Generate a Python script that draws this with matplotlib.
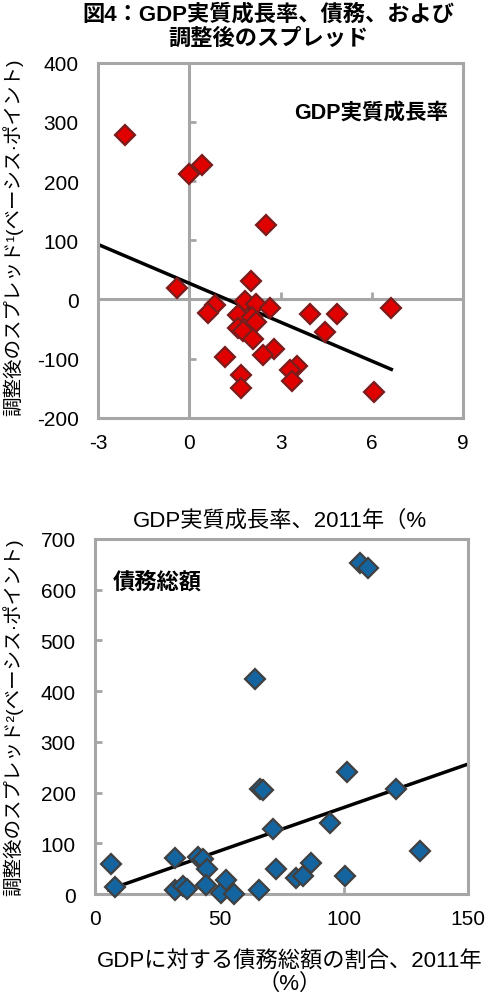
import matplotlib
matplotlib.use("Agg")
import matplotlib.pyplot as plt

plt.rcParams['font.family'] = ['Liberation Sans', 'Noto Sans CJK JP']
plt.rcParams['axes.unicode_minus'] = False

# 上: GDP実質成長率 vs 調整後のスプレッド
growth_x = [-2.12, 0.0, 0.41, 2.53, 2.03, -0.42, 0.84, 0.62, 1.83, 2.2,
            2.65, 1.61, 2.05, 2.2, 1.61, 1.78, 2.1, 3.97, 4.85, 4.47,
            6.64, 1.17, 2.77, 2.43, 3.54, 3.32, 3.37, 1.69, 1.69, 6.06]
growth_y = [277, 212, 228, 125, 31, 19, -10, -22, -2, -7,
            -14, -27, -30, -38, -48, -53, -66, -25, -24, -55,
            -15, -97, -83, -94, -112, -119, -137, -128, -149, -156]
growth_trend_x = [-3, 6.64]
growth_trend_y = [93, -118]

# 下: 債務総額 vs 調整後のスプレッド
debt_x = [6.3, 8.0, 32.1, 32.1, 35.5, 36.8, 41.5, 43.5, 44.8, 44.6,
          50.5, 52.6, 55.8, 64.3, 66.5, 67.6, 66.0, 71.4, 72.7, 81.0,
          83.7, 87.0, 94.6, 101.3, 100.4, 106.4, 109.8, 121.1, 130.8]
debt_y = [60, 13, 70, 7, 16, 9, 72, 69, 49, 18,
          2, 28, 0, 423, 207, 204, 7, 128, 49, 31,
          36, 62, 140, 240, 36, 653, 643, 206, 85]
debt_trend_x = [5.4, 150]
debt_trend_y = [8.5, 256]

top_xticks = [-3, 0, 3, 6, 9]
top_yticks = [-200, -100, 0, 100, 200, 300, 400]
bot_xticks = [0, 50, 100, 150]
bot_yticks = [0, 100, 200, 300, 400, 500, 600, 700]

grey = '#a6a6a6'
tick_fs = 15

fig = plt.figure(figsize=(4.88, 9.95), dpi=100)

def style(ax):
    for s in ax.spines.values():
        s.set_color(grey)
        s.set_linewidth(2.2)
    ax.tick_params(labelsize=tick_fs, length=0)
    ax.tick_params(axis='x', pad=11)
    ax.tick_params(axis='y', pad=14)

# ---- 上のグラフ
ax1 = fig.add_axes([0.201, 0.579, 0.748, 0.357])
style(ax1)
ax1.axhline(0, color=grey, lw=2.2, zorder=1)
ax1.axvline(0, color=grey, lw=2.2, zorder=1)
# 0の軸上の目盛り
ax1.plot([0] * len(top_yticks), top_yticks, ls='none', marker=1, ms=5,
         mew=2, color=grey, zorder=1, clip_on=False)
ax1.plot(top_xticks, [0] * len(top_xticks), ls='none', marker=2, ms=5,
         mew=2, color=grey, zorder=1, clip_on=False)
ax1.plot(growth_trend_x, growth_trend_y, color='black', lw=2.5, zorder=2)
ax1.plot(growth_x, growth_y, ls='none', marker='D', ms=10,
         mfc='#e00000', mec='#7a1c1c', mew=1.6, zorder=3)
ax1.set_xlim(-3, 9)
ax1.set_ylim(-200, 400)
ax1.set_xticks(top_xticks)
ax1.set_yticks(top_yticks)
ax1.text(0.959, 0.862, 'GDP実質成長率', transform=ax1.transAxes, ha='right',
         va='center', fontsize=15.5, fontweight='bold')
ax1.set_ylabel('調整後のスプレッド¹(ベーシス·ポイント)', fontsize=14, va='center')
ax1.yaxis.set_label_coords(-0.233, 0.51)
fig.text(0.55, 1 - 4 / 995, '図4：GDP実質成長率、債務、および\n調整後のスプレッド',
         ha='center', va='top', fontsize=16, fontweight='bold', linespacing=1.15)
fig.text(0.574, 1 - 521 / 995, 'GDP実質成長率、2011年（%', ha='center',
         va='center', fontsize=16)

# ---- 下のグラフ
ax2 = fig.add_axes([0.195, 0.1005, 0.764, 0.357])
style(ax2)
ax2.tick_params(axis='both', length=5, width=2, color=grey, direction='in')
ax2.plot(debt_trend_x, debt_trend_y, color='black', lw=2.5, zorder=2)
ax2.plot(debt_x, debt_y, ls='none', marker='D', ms=10,
         mfc='#1464a0', mec='#404040', mew=1.6, zorder=3, clip_on=False)
ax2.set_xlim(0, 150)
ax2.set_ylim(0, 700)
ax2.set_xticks(bot_xticks)
ax2.set_yticks(bot_yticks)
ax2.text(0.046, 0.879, '債務総額', transform=ax2.transAxes, ha='left',
         va='center', fontsize=16, fontweight='bold')
ax2.set_ylabel('調整後のスプレッド²(ベーシス·ポイント)', fontsize=14, va='center')
ax2.yaxis.set_label_coords(-0.22, 0.5)
fig.text(0.594, 1 - 973 / 995, 'GDPに対する債務総額の割合、2011年\n（%）',
         ha='center', va='center', fontsize=16, linespacing=1.1)

fig.savefig('out.png', dpi=100)
